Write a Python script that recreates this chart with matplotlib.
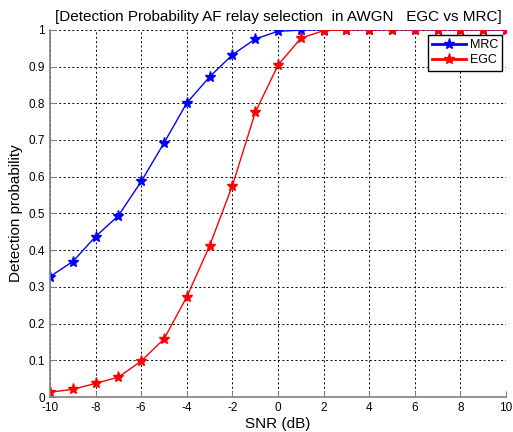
import numpy as np
import matplotlib
matplotlib.use('Agg')
import matplotlib.pyplot as plt

plt.rcParams['font.family'] = ['Liberation Sans', 'DejaVu Sans']
plt.rcParams['axes.unicode_minus'] = False

# datos
snr = [-10, -9, -8, -7, -6, -5, -4, -3, -2, -1, 0, 1, 2, 3, 4, 5, 6, 7, 8, 9, 10]
pd_mrc = [0.328, 0.369, 0.437, 0.494, 0.587, 0.692, 0.801, 0.872, 0.932, 0.975,
          0.996, 0.999, 1.0, 1.0, 1.0, 1.0, 1.0, 1.0, 1.0, 1.0, 1.0]
pd_egc = [0.013, 0.021, 0.037, 0.054, 0.098, 0.158, 0.273, 0.412, 0.576, 0.775,
          0.904, 0.977, 0.998, 1.0, 1.0, 1.0, 1.0, 1.0, 1.0, 1.0, 1.0]

fig = plt.figure(figsize=(5.13, 4.32), dpi=100)
ax = fig.add_axes([0.0975, 0.081, 0.889, 0.85])

ax.plot(snr, pd_mrc, '-*', color='blue', lw=1, ms=8, label='MRC')
ax.plot(snr, pd_egc, '-*', color='red', lw=1, ms=8, label='EGC')

ax.set_xlim(-10, 10)
ax.set_ylim(0, 1)
ax.set_xticks(np.arange(-10, 11, 2))
ax.set_yticks(np.arange(0, 1.01, 0.1))
ax.set_yticklabels(['0', '0.1', '0.2', '0.3', '0.4', '0.5', '0.6', '0.7', '0.8', '0.9', '1'])
ax.grid(True, ls=(0, (2, 2.5)), color='black', lw=0.7)
ax.tick_params(direction='in', labelsize=8.5, length=4, color='gray')

for s in ['top', 'right']:
    ax.spines[s].set_visible(False)
for s in ['left', 'bottom']:
    ax.spines[s].set_color('gray')
    ax.spines[s].set_linewidth(1.2)

ax.set_xlabel('SNR (dB)', fontsize=11, labelpad=2)
ax.set_ylabel('Detection probability', fontsize=11, labelpad=4)
ax.set_title('[Detection Probability AF relay selection  in AWGN   EGC vs MRC]',
             fontsize=11, pad=6)

leg = ax.legend(loc='upper right', bbox_to_anchor=(0.992, 0.986), fontsize=9,
                fancybox=False, framealpha=1, edgecolor='black',
                borderpad=0.35, handlelength=2.7, labelspacing=0.25,
                handletextpad=0.3, borderaxespad=0)
leg.get_frame().set_linewidth(1.0)
for h in leg.get_lines():
    h.set_linewidth(2)

plt.savefig('out.png', dpi=100)
